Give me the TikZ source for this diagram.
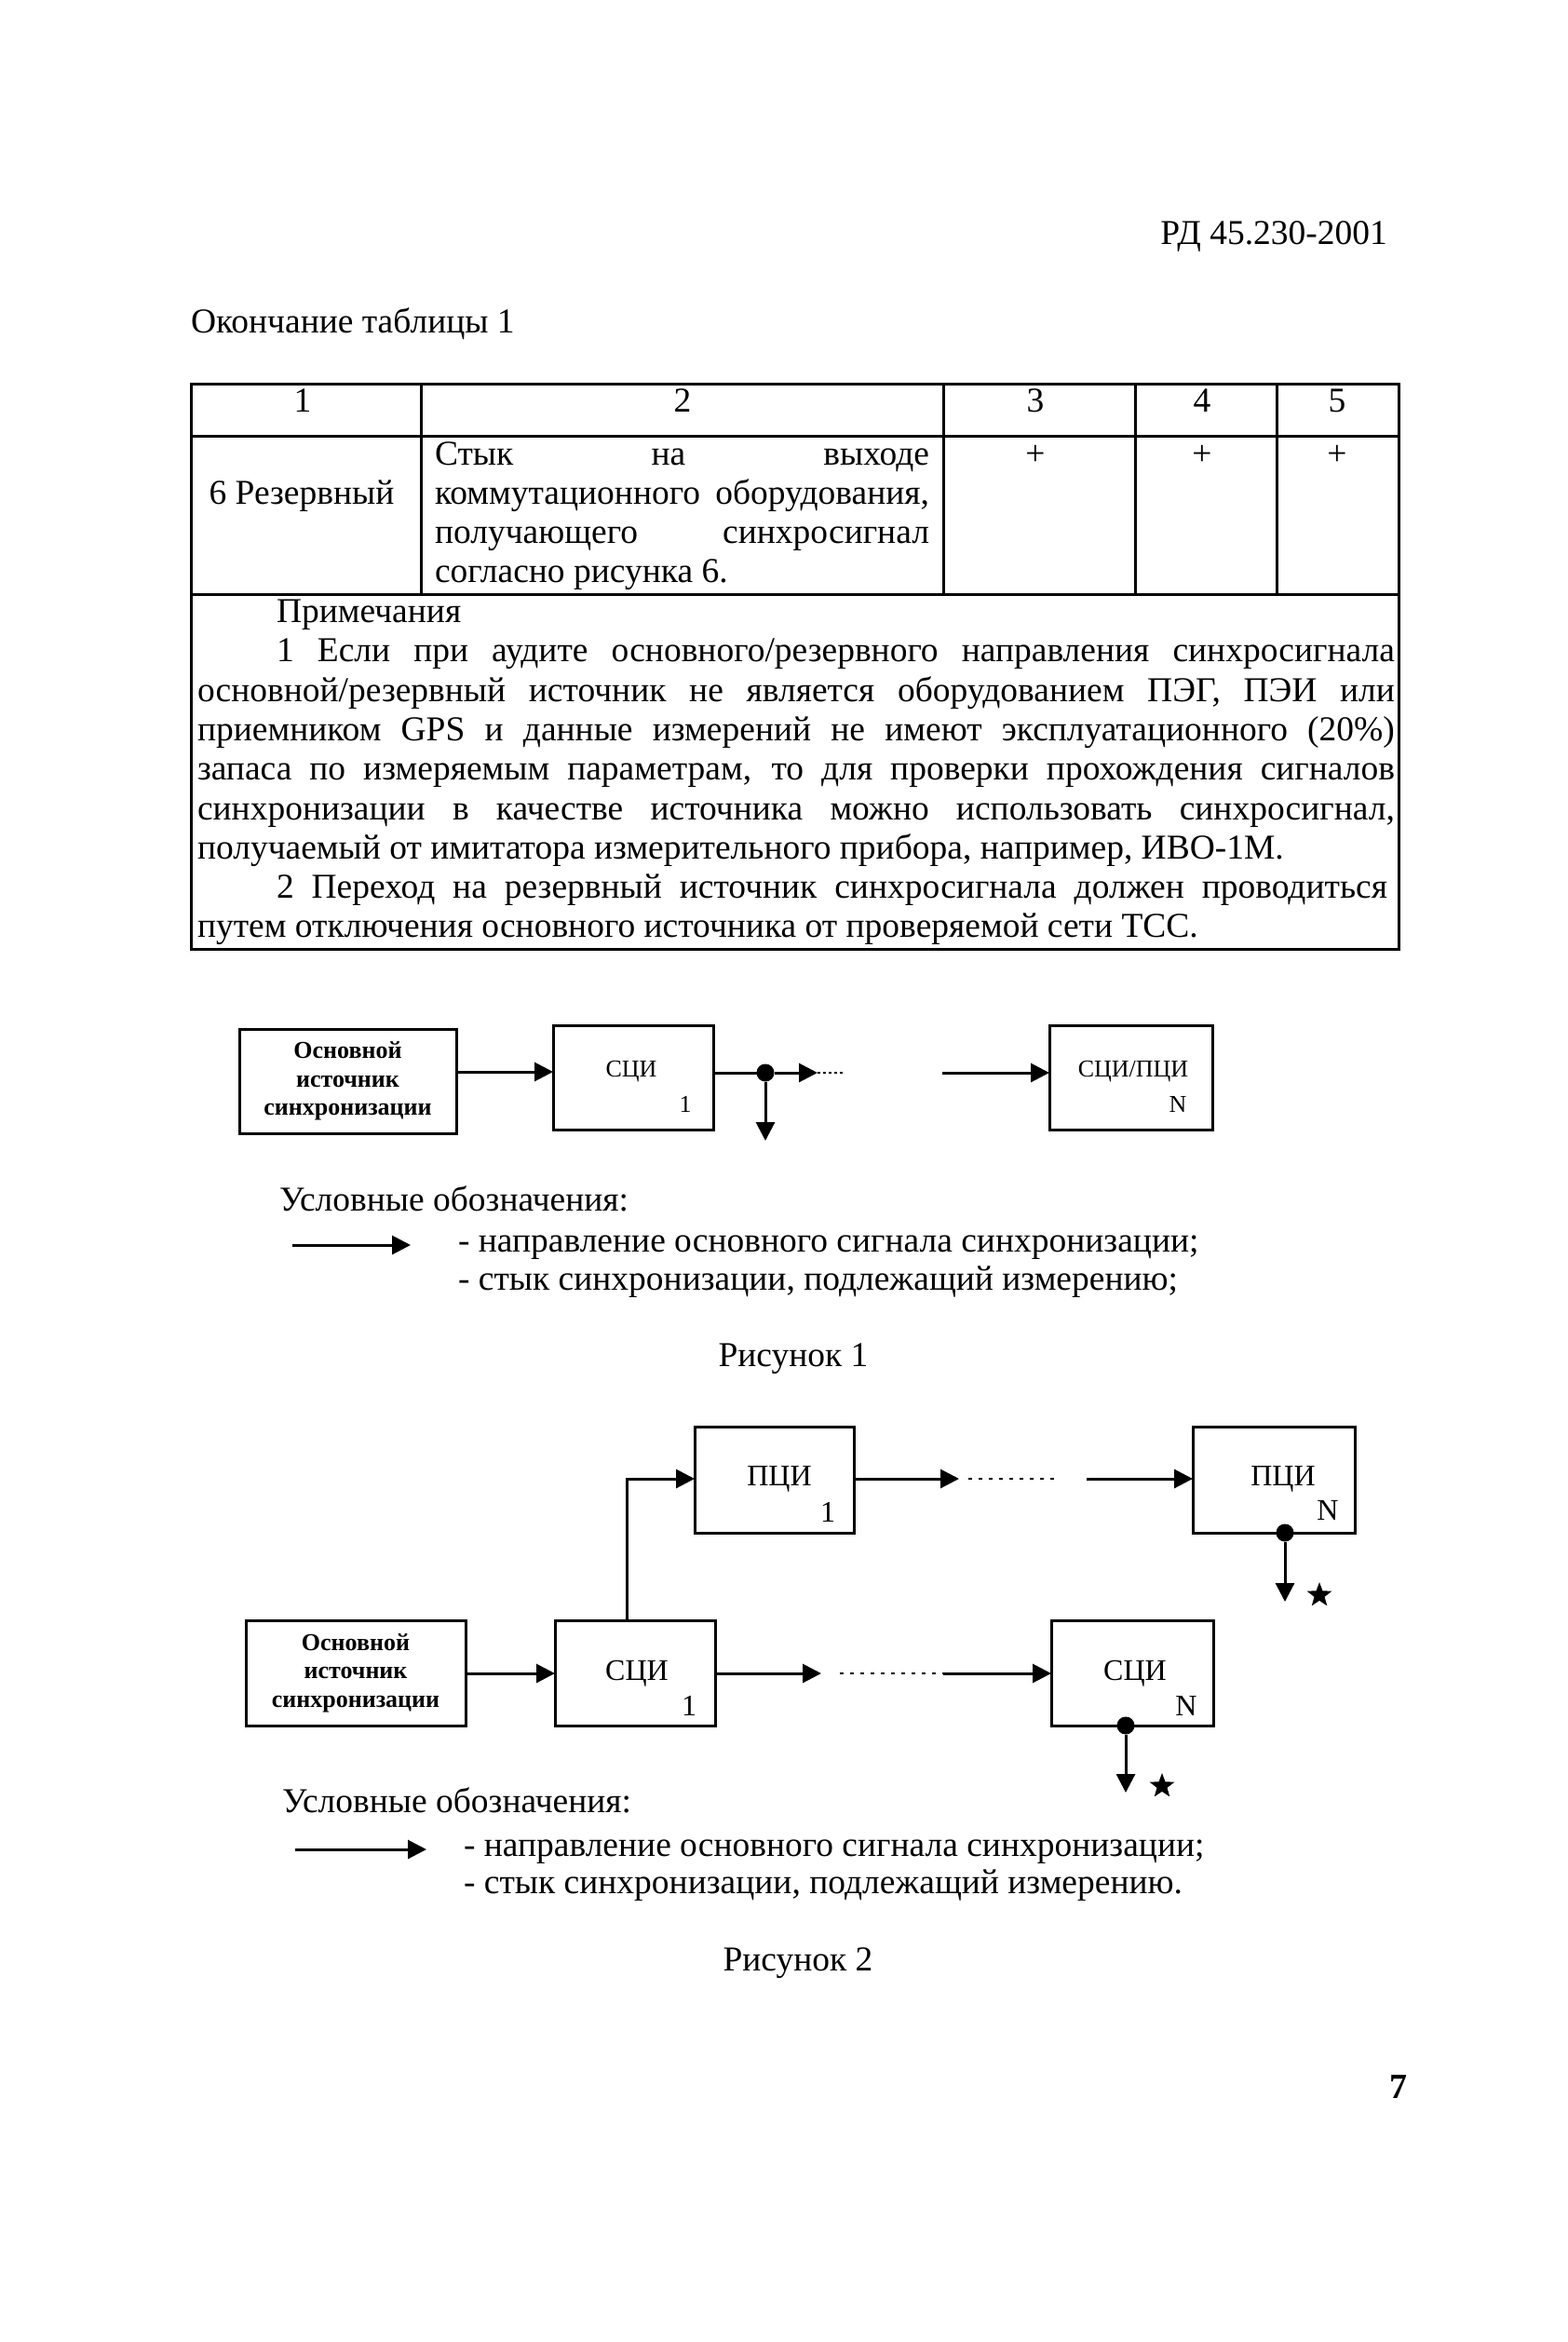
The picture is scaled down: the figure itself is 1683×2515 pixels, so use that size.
\documentclass[tikz,border=0pt]{standalone}
\usepackage{fontspec}
\setmainfont{Liberation Serif}
\usetikzlibrary{arrows.meta,shapes.geometric}
\newcommand\txtL{\fontsize{37.5}{42.3}\selectfont}
\newcommand\txtS{\fontsize{26}{30.5}\selectfont\bfseries}
\newcommand\txtM{\fontsize{26}{30}\selectfont}
\newcommand\txtF{\fontsize{32}{36}\selectfont}
\newcommand\jline[2]{\makebox[#1pt][s]{#2}}
\begin{document}
\begin{tikzpicture}[x=1pt,y=-1pt,
  every node/.style={inner sep=0pt, outer sep=0pt},
  blk/.style={draw, line width=3pt, rectangle},
  sig/.style={line width=3pt, -{Triangle[length=20pt,width=20pt]}},
  wire/.style={line width=3pt},
  dotline/.style={line width=2.5pt, dash pattern=on 4pt off 7pt},
  junc/.style={circle, fill=black, minimum size=19pt},
  meas/.style={star, star points=5, star point ratio=2.4, fill=black, minimum size=28pt},
  lbl/.style={anchor=base west, font=\txtL},
  lblc/.style={anchor=base, font=\txtL},
]
\fill[white] (0,0) rectangle (1683,2515);
\useasboundingbox (0,0) rectangle (1683,2515);

% header
\node[anchor=base east, font=\txtL] (hdr) at (1490,262) {РД 45.230-2001};
\node[lbl] (cont) at (205,357) {Окончание таблицы 1};

% table
\draw[wire] (205,412) rectangle (1502,1019);
\draw[wire] (205,468) -- (1502,468);
\draw[wire] (205,638) -- (1502,638);
\draw[wire] (452,412) -- (452,638);
\draw[wire] (1013,412) -- (1013,638);
\draw[wire] (1219,412) -- (1219,638);
\draw[wire] (1371,412) -- (1371,638);

\node[lblc] (h1) at (325,442) {1};
\node[lblc] (h2) at (733,442) {2};
\node[lblc] (h3) at (1112,442) {3};
\node[lblc] (h4) at (1291,442) {4};
\node[lblc] (h5) at (1436,442) {5};

\node[lblc] (r1) at (324,541) {6 Резервный};
\node[lbl] (r2a) at (467,499) {\jline{531}{Стык на выходе}};
\node[lbl] (r2b) at (467,541) {\jline{531}{коммутационного оборудования,}};
\node[lbl] (r2c) at (467,583) {\jline{531}{получающего синхросигнал}};
\node[lbl] (r2d) at (467,625) {согласно рисунка 6.};
\node[lblc] (p3) at (1112,499) {+};
\node[lblc] (p4) at (1291,499) {+};
\node[lblc] (p5) at (1436,499) {+};

% notes
\node[lbl] (n1) at (297,668) {Примечания};
\node[lbl] (n2) at (297,710) {\jline{1201}{1 Если при аудите основного/резервного направления синхросигнала}};
\node[lbl] (n3) at (212,753) {\jline{1286}{основной/резервный источник не является оборудованием ПЭГ, ПЭИ или}};
\node[lbl] (n4) at (212,795) {\jline{1286}{приемником GPS и данные измерений не имеют эксплуатационного (20\%)}};
\node[lbl] (n5) at (212,837) {\jline{1286}{запаса по измеряемым параметрам, то для проверки прохождения сигналов}};
\node[lbl] (n6) at (212,880) {\jline{1286}{синхронизации в качестве источника можно использовать синхросигнал,}};
\node[lbl] (n7) at (212,922) {получаемый от имитатора измерительного прибора, например, ИВО-1М.};
\node[lbl] (n8) at (297,964) {\jline{1193}{2 Переход на резервный источник синхросигнала должен проводиться}};
\node[lbl] (n9) at (212,1006) {путем отключения основного источника от проверяемой сети ТСС.};

% ---------- Figure 1
\node[blk, minimum width=233pt, minimum height=112pt, font=\txtS, align=center] (src1) at (373.5,1161) {Основной\\источник\\синхронизации};
\node[blk, minimum width=172pt, minimum height=112pt] (s1) at (680,1157) {};
\node[font=\txtM] (s1t) at (678,1151) {СЦИ};
\node[font=\txtM] (s1n) at (736,1186) {1};
\node[blk, minimum width=175pt, minimum height=112pt] (sN) at (1214.5,1157) {};
\node[font=\txtM] (sNt) at (1217,1151) {СЦИ/ПЦИ};
\node[font=\txtM] (sNn) at (1265,1186) {N};

\draw[sig] (src1.east |- s1t) -- (s1.west |- s1t);
\node[junc] (j1) at (822,1152) {};
\draw[wire] (s1.east |- j1) -- (j1);
\coordinate (a1e) at (878,1152);
\coordinate (d1e) at (905,1152);
\draw[sig] (j1) -- (a1e);
\draw[line width=2pt, dash pattern=on 3pt off 3pt] (a1e) -- (d1e);
\coordinate (j1d) at (822,1225);
\draw[sig] (j1) -- (j1d);
\coordinate (a2s) at (1012,1152);
\draw[sig] (a2s) -- (sN.west |- a2s);

\node[lbl] (lg1) at (300,1300) {Условные обозначения:};
\coordinate (l1s) at (314,1337);
\coordinate (l1e) at (441,1337);
\draw[sig] (l1s) -- (l1e);
\node[lbl] (lg1a) at (492,1344) {- направление основного сигнала синхронизации;};
\node[lbl] (lg1b) at (492,1385) {- стык синхронизации, подлежащий измерению;};
\node[lblc] (fig1) at (852,1467) {Рисунок 1};

% ---------- Figure 2
\node[blk, minimum width=236pt, minimum height=113pt, font=\txtS, align=center] (src2) at (382,1796.5) {Основной\\источник\\синхронизации};
\node[blk, minimum width=172pt, minimum height=113pt] (s21) at (682,1796.5) {};
\node[font=\txtF] (s21t) at (684,1797) {СЦИ};
\node[font=\txtF] (s21n) at (740,1832) {1};
\node[blk, minimum width=174pt, minimum height=113pt] (s2N) at (1216,1796.5) {};
\node[font=\txtF] (s2Nt) at (1219,1797) {СЦИ};
\node[font=\txtF] (s2Nn) at (1274,1832) {N};
\node[blk, minimum width=171pt, minimum height=114pt] (p21) at (831.5,1589) {};
\node[font=\txtF] (p21t) at (837,1588) {ПЦИ};
\node[font=\txtF] (p21n) at (889,1624) {1};
\node[blk, minimum width=174pt, minimum height=114pt] (p2N) at (1368,1589) {};
\node[font=\txtF] (p2Nt) at (1378,1588) {ПЦИ};
\node[font=\txtF] (p2Nn) at (1426,1622) {N};

\draw[sig] (src2.east |- s21t) -- (s21.west |- s21t);
\coordinate (b1e) at (882,1797);
\coordinate (b1ds) at (902,1797);
\coordinate (b1d) at (1013,1797);
\draw[sig] (s21.east |- b1e) -- (b1e);
\draw[dotline] (b1ds) -- (b1d);
\draw[sig] (b1d) -- (s2N.west |- b1d);

\coordinate (up) at (673,1588);
\draw[sig] (s21.north -| up) -- (up) -- (p21.west |- up);
\coordinate (c1e) at (1030,1588);
\coordinate (c1ds) at (1040,1588);
\coordinate (c1de) at (1137,1588);
\coordinate (c2s) at (1167,1588);
\draw[sig] (p21.east |- c1e) -- (c1e);
\draw[dotline] (c1ds) -- (c1de);
\draw[sig] (c2s) -- (p2N.west |- c2s);

\node[junc] (j2) at (1380,1646) {};
\coordinate (j2d) at (1380,1720);
\draw[sig] (j2) -- (j2d);
\node[meas] (st1) at (1417,1713) {};
\node[junc] (j3) at (1209,1853) {};
\coordinate (j3d) at (1209,1925);
\draw[sig] (j3) -- (j3d);
\node[meas] (st2) at (1248,1918) {};

\node[lbl] (lg2) at (303,1946) {Условные обозначения:};
\coordinate (l2s) at (317,1986);
\coordinate (l2e) at (458,1986);
\draw[sig] (l2s) -- (l2e);
\node[lbl] (lg2a) at (498,1993) {- направление основного сигнала синхронизации;};
\node[lbl] (lg2b) at (498,2033) {- стык синхронизации, подлежащий измерению.};
\node[lblc] (fig2) at (857,2116) {Рисунок 2};

\node[anchor=base east, font=\fontsize{38}{40}\selectfont\bfseries] (pg) at (1511,2253) {7};
\end{tikzpicture}
\end{document}
